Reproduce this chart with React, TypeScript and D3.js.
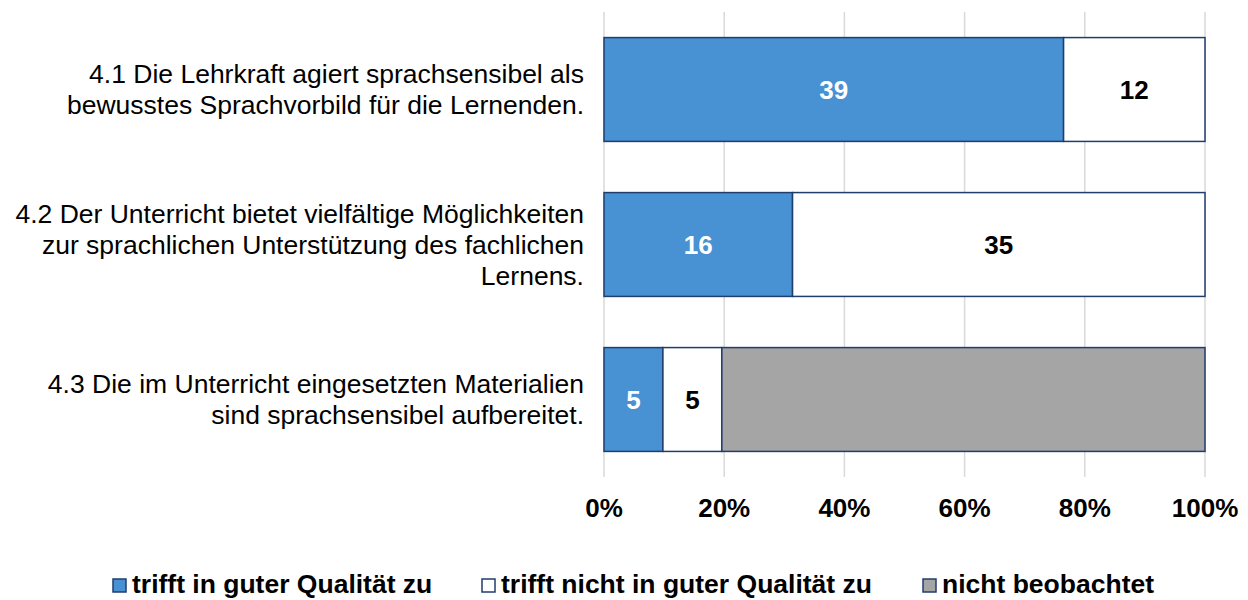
import React, { useRef, useEffect } from 'react';
import * as d3 from 'd3';

const categories: string[][] = [
    ['4.1 Die Lehrkraft agiert sprachsensibel als', 'bewusstes Sprachvorbild für die Lernenden.'],
    ['4.2 Der Unterricht bietet vielfältige Möglichkeiten', 'zur sprachlichen Unterstützung des fachlichen', 'Lernens.'],
    ['4.3 Die im Unterricht eingesetzten Materialien', 'sind sprachsensibel aufbereitet.'],
];
const seriesNames = ['trifft in guter Qualität zu', 'trifft nicht in guter Qualität zu', 'nicht beobachtet'];
const gut = [39, 16, 5];
const nichtGut = [12, 35, 5];
const nichtBeobachtet = [0, 0, 41];
const ticks = [0, 0.2, 0.4, 0.6, 0.8, 1];

const colors = ['#4891D3', '#FFFFFF', '#A5A5A5'];
const labelColors = ['#FFFFFF', '#000000', null];
const font = '"Liberation Sans", Arial, sans-serif';

const App: React.FC = () => {
    const svgRef = useRef<SVGSVGElement | null>(null);

    useEffect(() => {
        const svg = d3.select(svgRef.current);
        svg.selectAll('*').remove();

        const x = d3.scaleLinear().domain([0, 1]).range([604, 1205]);
        const y = d3.scaleBand<number>()
            .domain(categories.map((_, i) => i))
            .range([12, 477])
            .paddingInner(0.33)
            .paddingOuter(0.165);

        // gridlines
        svg.append('g')
            .selectAll('line')
            .data(ticks)
            .enter()
            .append('line')
            .attr('x1', d => x(d))
            .attr('x2', d => x(d))
            .attr('y1', 12)
            .attr('y2', 477)
            .attr('stroke', '#D9D9D9')
            .attr('stroke-width', 1.5);

        const rows = categories.map((_, i) => [gut[i], nichtGut[i], nichtBeobachtet[i]]);

        rows.forEach((vals, i) => {
            const total = d3.sum(vals);
            let acc = 0;
            vals.forEach((v, s) => {
                const x0 = x(acc / total);
                acc += v;
                const x1 = x(acc / total);
                if (v === 0) return;
                svg.append('rect')
                    .attr('x', x0)
                    .attr('y', y(i)!)
                    .attr('width', x1 - x0)
                    .attr('height', y.bandwidth())
                    .attr('fill', colors[s])
                    .attr('stroke', '#1F3E6E')
                    .attr('stroke-width', 1.5);
                const lc = labelColors[s];
                if (lc) {
                    svg.append('text')
                        .attr('x', (x0 + x1) / 2)
                        .attr('y', y(i)! + y.bandwidth() / 2)
                        .attr('dy', '0.35em')
                        .attr('text-anchor', 'middle')
                        .attr('fill', lc)
                        .style('font-family', font)
                        .style('font-size', '26px')
                        .style('font-weight', 'bold')
                        .text(v);
                }
            });

            // category label
            const lines = categories[i];
            const cy = y(i)! + y.bandwidth() / 2;
            const lh = 31;
            const t = svg.append('text')
                .attr('text-anchor', 'end')
                .style('font-family', font)
                .style('font-size', '26.5px')
                .attr('fill', '#000');
            lines.forEach((ln, k) => {
                t.append('tspan')
                    .attr('x', 584)
                    .attr('y', cy + (k - (lines.length - 1) / 2) * lh)
                    .attr('dy', '0.35em')
                    .text(ln);
            });
        });

        // x tick labels
        svg.append('g')
            .selectAll('text')
            .data(ticks)
            .enter()
            .append('text')
            .attr('x', d => x(d))
            .attr('y', 508)
            .attr('dy', '0.35em')
            .attr('text-anchor', 'middle')
            .style('font-family', font)
            .style('font-size', '26px')
            .style('font-weight', 'bold')
            .text(d => d3.format('.0%')(d));

        // legend
        const legendX = [113, 482, 923];
        seriesNames.forEach((name, s) => {
            svg.append('rect')
                .attr('x', legendX[s])
                .attr('y', 579)
                .attr('width', 13)
                .attr('height', 13)
                .attr('fill', colors[s])
                .attr('stroke', '#1F3E6E')
                .attr('stroke-width', 1.5);
            svg.append('text')
                .attr('x', legendX[s] + 19)
                .attr('y', 584)
                .attr('dy', '0.35em')
                .style('font-family', font)
                .style('font-size', '26.5px')
                .style('font-weight', 'bold')
                .text(name);
        });
    }, []);

    return (
        <svg ref={svgRef} width={1248} height={600}
            style={{ position: 'absolute', left: 0, top: 0, background: '#fff' }}></svg>
    );
};

export default App;
